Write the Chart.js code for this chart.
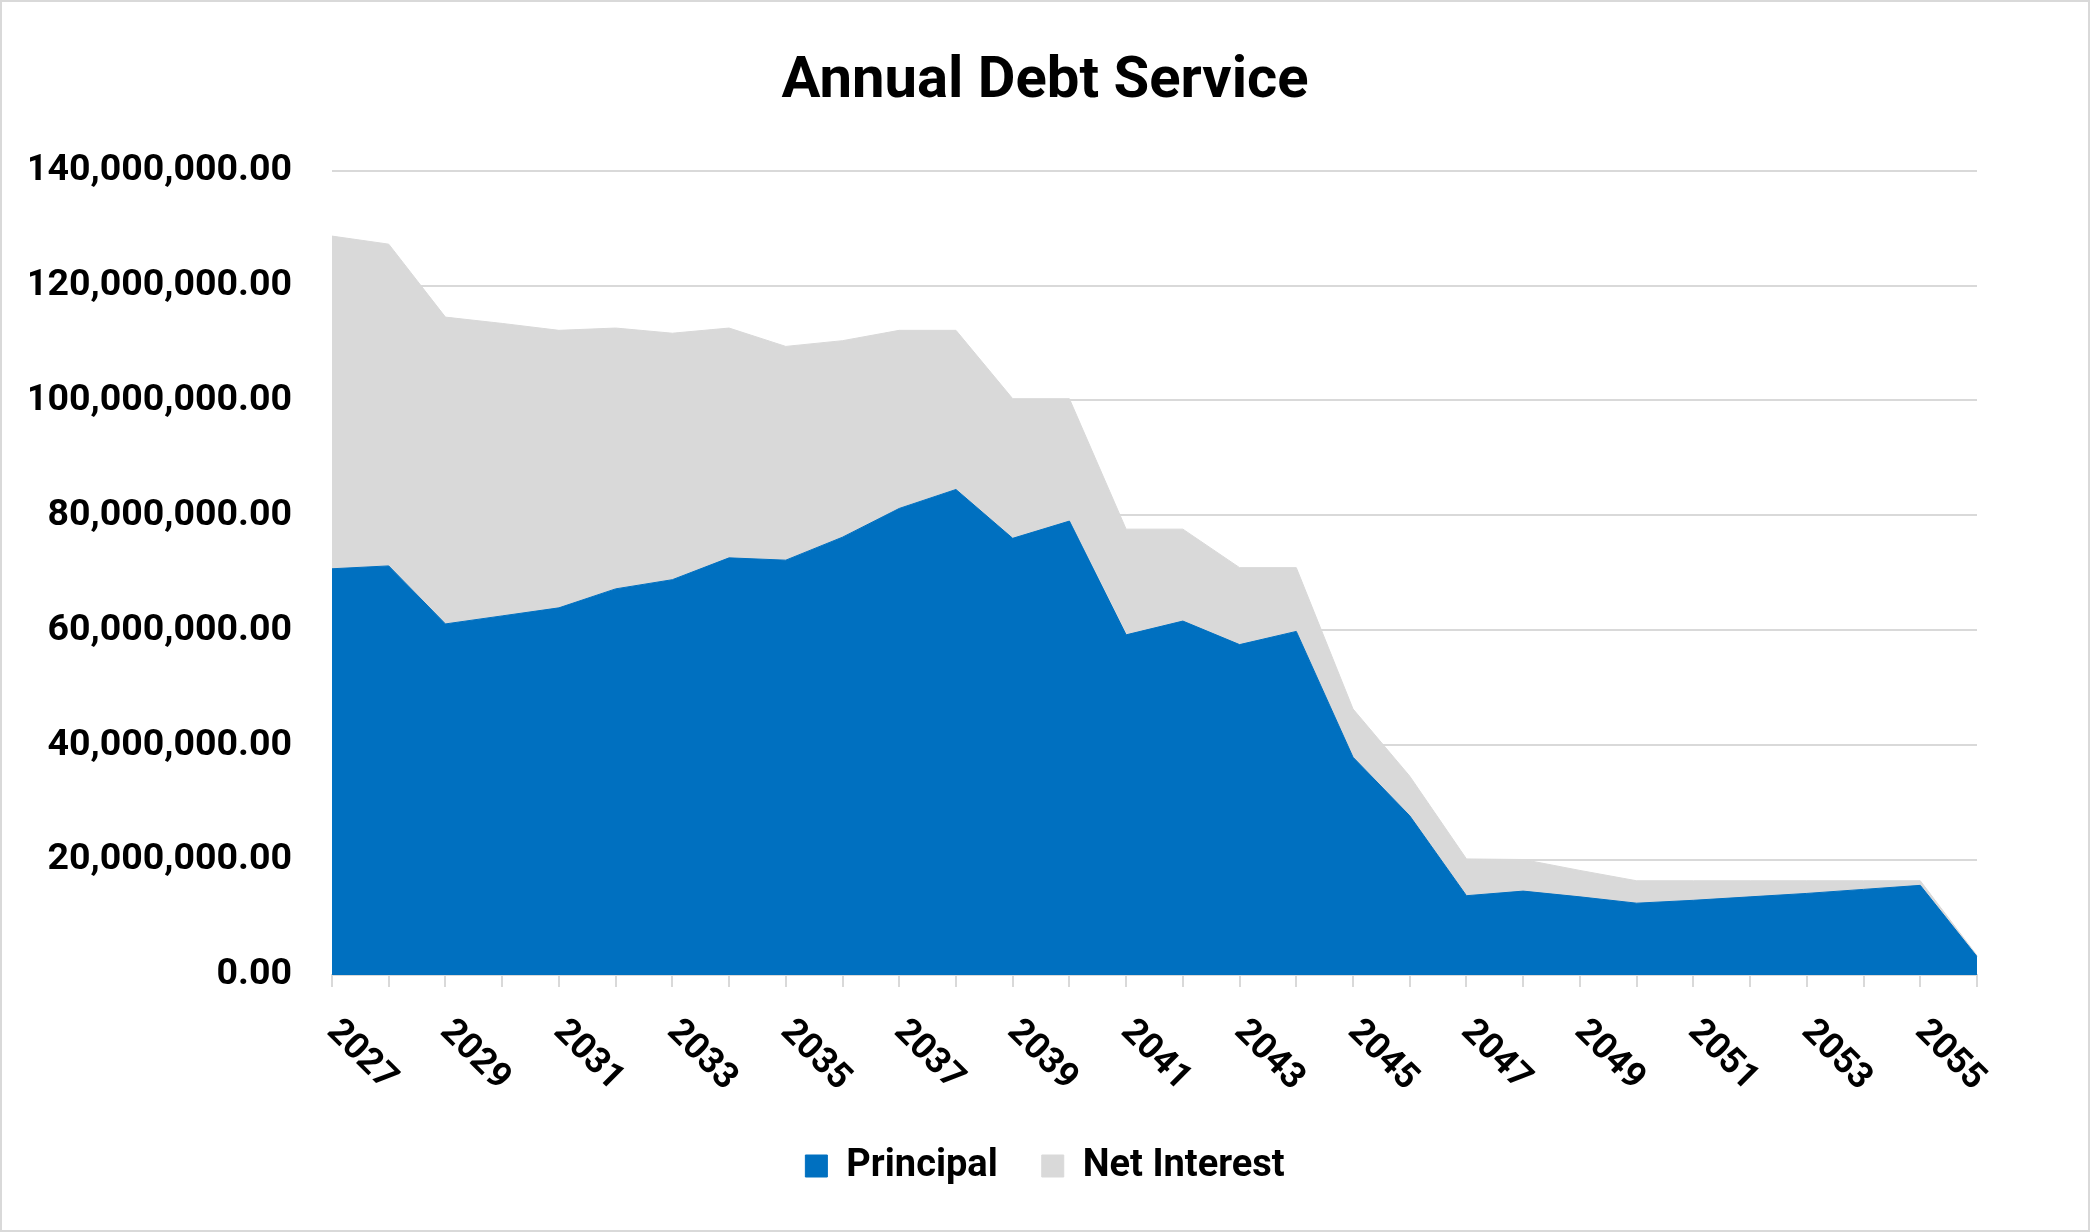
<!DOCTYPE html>
<html>
<head>
<meta charset="utf-8">
<script src="https://cdn.jsdelivr.net/npm/chart.js@4.4.1/dist/chart.umd.min.js"></script>
<style>
  html, body { margin: 0; padding: 0; background: #fff; }
  #wrap { width: 2090px; height: 1232px; box-sizing: border-box; border: 2px solid #d9d9d9; background: #fff; }
</style>
</head>
<body>
<div id="wrap"><canvas id="debtChart"></canvas></div>
<script>
// values in millions of dollars
const years = [2027, 2028, 2029, 2030, 2031, 2032, 2033, 2034, 2035, 2036,
               2037, 2038, 2039, 2040, 2041, 2042, 2043, 2044, 2045, 2046,
               2047, 2048, 2049, 2050, 2051, 2052, 2053, 2054, 2055, 2056];
const principal = [70.7, 71.2, 61.1, 62.5, 63.9, 67.2, 68.8, 72.6, 72.2, 76.2,
                   81.2, 84.5, 76.0, 79.0, 59.2, 61.6, 57.5, 59.8, 37.9, 27.7,
                   13.8, 14.6, 13.6, 12.5, 13.0, 13.6, 14.2, 14.9, 15.6, 3.2];
const netInterest = [57.9, 56.0, 53.4, 50.9, 48.3, 45.4, 42.9, 40.0, 37.2, 34.2,
                     31.0, 27.7, 24.3, 21.3, 18.4, 16.0, 13.4, 11.1, 8.4, 6.9,
                     6.4, 5.5, 4.6, 3.9, 3.4, 2.8, 2.2, 1.5, 0.8, 0.2];
const yTicks = [0, 20, 40, 60, 80, 100, 120, 140];

const toDollars = arr => arr.map(v => v * 1e6);
const fontFamily = 'Roboto, "Liberation Sans", sans-serif';

// category axis whose slanted labels hang down to the right of each tick
class SlantScale extends Chart.CategoryScale {
    _getXAxisLabelAlignment() {
        return 'left';
    }
}
SlantScale.id = 'slant';
SlantScale.defaults = Chart.CategoryScale.defaults;
Chart.register(SlantScale);

const ctx = document.getElementById('debtChart');

new Chart(ctx, {
    type: 'line',
    data: {
        labels: years.map(String),
        datasets: [{
            label: 'Principal',
            data: toDollars(principal),
            backgroundColor: '#0070C0',
            borderColor: '#0070C0',
            borderWidth: 1,
            pointRadius: 0,
            fill: 'origin'
        },
        {
            label: 'Net Interest',
            data: toDollars(netInterest),
            backgroundColor: '#D9D9D9',
            borderColor: '#D9D9D9',
            borderWidth: 1,
            pointRadius: 0,
            fill: '-1'
        }]
    },
    options: {
        responsive: true,
        maintainAspectRatio: false,
        animation: false,
        layout: {
            padding: { top: 0, left: 28, right: 28, bottom: 35 }
        },
        plugins: {
            title: {
                display: true,
                text: 'Annual Debt Service',
                color: '#000',
                font: { family: fontFamily, size: 58, weight: 'bold' },
                padding: { top: 46, bottom: 53 }
            },
            legend: {
                position: 'bottom',
                labels: {
                    color: '#000',
                    font: { family: fontFamily, size: 38, weight: 'bold' },
                    boxWidth: 22,
                    boxHeight: 22,
                    padding: 44
                }
            },
            tooltip: { enabled: false }
        },
        scales: {
            x: {
                type: 'slant',
                offset: false,
                grid: {
                    drawOnChartArea: false,
                    drawTicks: true,
                    tickLength: 12,
                    color: '#d9d9d9',
                    lineWidth: 2
                },
                border: { color: '#d9d9d9', width: 2 },
                ticks: {
                    autoSkip: false,
                    minRotation: -45,
                    maxRotation: -45,
                    padding: 24,
                    color: '#000',
                    font: { family: fontFamily, size: 36, weight: 'bold' },
                    callback: (value, index) => index % 2 === 0 ? String(years[index]) : ''
                },
                afterFit: scale => {
                    scale.height = 128;
                    scale.paddingLeft = 0;
                    scale.paddingRight = 111;
                }
            },
            y: {
                stacked: true,
                min: 0,
                max: yTicks[yTicks.length - 1] * 1e6,
                afterBuildTicks: scale => {
                    scale.ticks = yTicks.map(v => ({ value: v * 1e6 }));
                },
                afterFit: scale => {
                    scale.width = 302;
                },
                grid: {
                    color: '#d9d9d9',
                    lineWidth: 2,
                    drawTicks: false
                },
                border: { display: false },
                ticks: {
                    padding: 40,
                    color: '#000',
                    font: { family: fontFamily, size: 37.5, weight: 'bold' },
                    callback: value => Number(value).toLocaleString('en-US', {
                        minimumFractionDigits: 2,
                        maximumFractionDigits: 2
                    })
                }
            }
        }
    }
});
</script>
</body>
</html>
